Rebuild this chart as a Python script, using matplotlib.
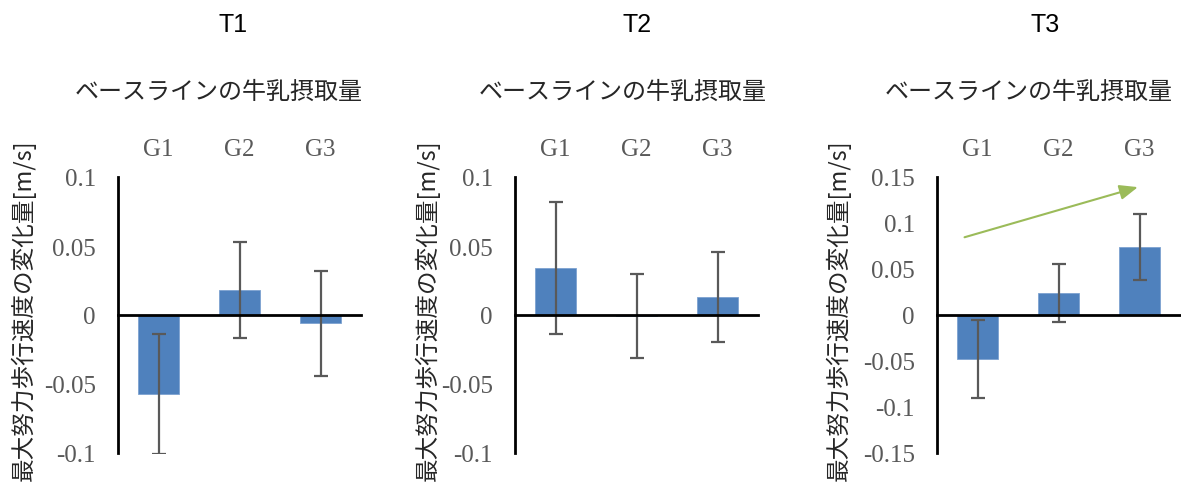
import matplotlib
matplotlib.use("Agg")
import matplotlib.pyplot as plt
import numpy as np

# ---- data ----
panel_titles = ["T1", "T2", "T3"]
subtitle = "ベースラインの牛乳摂取量"
ylabel = "最大努力歩行速度の変化量[m/s]"
groups = ["G1", "G2", "G3"]
t1_values = [-0.057, 0.018, -0.006]
t1_errors = [0.0435, 0.035, 0.038]
t2_values = [0.034, -0.001, 0.013]
t2_errors = [0.048, 0.0305, 0.0325]
t3_values = [-0.048, 0.024, 0.074]
t3_errors = [0.0425, 0.0313, 0.036]
t1_ticks = [-0.1, -0.05, 0, 0.05, 0.1]
t2_ticks = [-0.1, -0.05, 0, 0.05, 0.1]
t3_ticks = [-0.15, -0.1, -0.05, 0, 0.05, 0.1, 0.15]
# trend arrow on T3 (data coordinates)
arrow_start = (-0.16, 0.0845)
arrow_end = (1.98, 0.139)

serif = ["Liberation Serif", "DejaVu Serif"]
cjk = ["Noto Sans CJK JP", "DejaVu Sans"]
plt.rcParams["font.family"] = serif

W, H = 1181, 485
fig = plt.figure(figsize=(W / 100, H / 100), dpi=100)

bar_color = "#4F81BD"
gray = "#595959"

panels = [
    (t1_values, t1_errors, t1_ticks),
    (t2_values, t2_errors, t2_ticks),
    (t3_values, t3_errors, t3_ticks),
]
lefts_px = [118, 515, 937]
title_x_px = [233, 637, 1045]
sub_x_px = [219, 623, 1029]
ylab_x_px = [23, 427, 838]
ax_w_px = 243
top_px, bot_px = 178, 454

for i, (vals, errs, ticks) in enumerate(panels):
    ax = fig.add_axes([lefts_px[i] / W, (H - bot_px) / H, ax_w_px / W, (bot_px - top_px) / H])
    x = np.arange(len(groups))
    ax.bar(x, vals, width=0.5, color=bar_color, edgecolor="#7DA2D0", linewidth=0.6, zorder=2)
    ax.errorbar(x, vals, yerr=errs, fmt="none", ecolor=gray, elinewidth=1.6,
                capsize=5, capthick=1.6, zorder=3)
    ax.set_xlim(-0.5, 2.5)
    ax.set_ylim(ticks[0], ticks[-1])
    ax.tick_params(axis="x", top=False, bottom=False, labeltop=True, labelbottom=False,
                   labelsize=18, labelcolor=gray, pad=9)
    ax.tick_params(axis="y", length=0, labelsize=18, labelcolor=gray, pad=16)
    ax.set_yticks(ticks)
    ax.set_yticklabels([("%g" % t) for t in ticks])
    ax.set_xticks(x)
    ax.set_xticklabels(groups)
    for s in ["top", "right"]:
        ax.spines[s].set_visible(False)
    ax.spines["bottom"].set_position(("data", 0))
    ax.spines["bottom"].set_linewidth(2)
    ax.spines["left"].set_linewidth(2)
    ax.spines["bottom"].set_zorder(4)
    ax.patch.set_alpha(0)
    if i == 2:
        ax.annotate("", xy=arrow_end, xytext=arrow_start,
                    arrowprops=dict(arrowstyle="-|>,head_length=1.1,head_width=0.45",
                                    color="#9BBB59", lw=1.5, shrinkA=0, shrinkB=0))
    fig.text(title_x_px[i] / W, 1 - 25 / H, panel_titles[i], ha="center", va="center",
             fontsize=18, fontfamily=["Liberation Sans", "DejaVu Sans"])
    fig.text(sub_x_px[i] / W, 1 - 92 / H, subtitle, ha="center", va="center",
             fontsize=17.3, fontfamily=cjk, color="#262626")
    fig.text(ylab_x_px[i] / W, 1 - 310 / H, ylabel, ha="center", va="center",
             rotation=90, fontsize=17, fontfamily=cjk, color="#262626")

fig.savefig("out.png", dpi=100)
